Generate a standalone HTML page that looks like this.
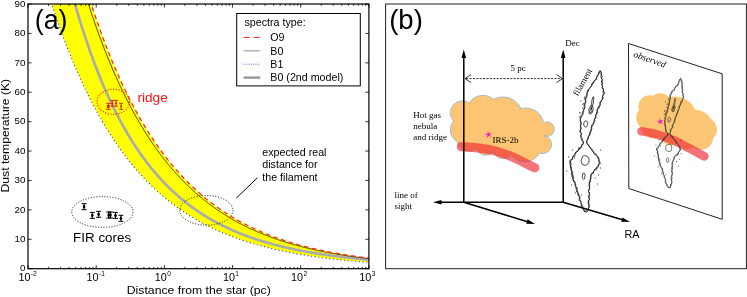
<!DOCTYPE html>
<html><head><meta charset="utf-8"><title>figure</title><style>html,body{margin:0;padding:0;background:#fff}body{width:747px;height:297px;overflow:hidden;font-family:"Liberation Sans",sans-serif}</style></head><body>
<svg width="747" height="297" viewBox="0 0 747 297" style="will-change:transform;display:block;font-family:'Liberation Sans',sans-serif">
<rect width="747" height="297" fill="#fff"/>
<clipPath id="ca"><rect x="28.0" y="4.0" width="340.9" height="264.7"/></clipPath>
<g clip-path="url(#ca)">
<path d="M28.0,-79.2 L28.9,-75.8 L29.7,-72.5 L30.6,-69.1 L31.4,-65.8 L32.3,-62.6 L33.1,-59.3 L34.0,-56.1 L34.8,-52.9 L35.7,-49.8 L36.5,-46.6 L37.4,-43.6 L38.3,-40.5 L39.1,-37.5 L40.0,-34.5 L40.8,-31.5 L41.7,-28.6 L42.5,-25.6 L43.4,-22.8 L44.2,-19.9 L45.1,-17.1 L45.9,-14.3 L46.8,-11.5 L47.7,-8.7 L48.5,-6.0 L49.4,-3.3 L50.2,-0.7 L51.1,2.0 L51.9,4.6 L52.8,7.2 L53.6,9.8 L54.5,12.3 L55.3,14.8 L56.2,17.3 L57.0,19.8 L57.9,22.2 L58.8,24.6 L59.6,27.0 L60.5,29.4 L61.3,31.8 L62.2,34.1 L63.0,36.4 L63.9,38.7 L64.7,40.9 L65.6,43.2 L66.4,45.4 L67.3,47.6 L68.2,49.8 L69.0,51.9 L69.9,54.1 L70.7,56.2 L71.6,58.3 L72.4,60.3 L73.3,62.4 L74.1,64.4 L75.0,66.4 L75.8,68.4 L76.7,70.4 L77.6,72.3 L78.4,74.3 L79.3,76.2 L80.1,78.1 L81.0,80.0 L81.8,81.8 L82.7,83.7 L83.5,85.5 L84.4,87.3 L85.2,89.1 L86.1,90.9 L87.0,92.6 L87.8,94.4 L88.7,96.1 L89.5,97.8 L90.4,99.5 L91.2,101.1 L92.1,102.8 L92.9,104.4 L93.8,106.0 L94.6,107.6 L95.5,109.2 L96.4,110.8 L97.2,112.4 L98.1,113.9 L98.9,115.4 L99.8,117.0 L100.6,118.5 L101.5,119.9 L102.3,121.4 L103.2,122.9 L104.0,124.3 L104.9,125.7 L105.7,127.1 L106.6,128.5 L107.5,129.9 L108.3,131.3 L109.2,132.7 L110.0,134.0 L110.9,135.3 L111.7,136.7 L112.6,138.0 L113.4,139.3 L114.3,140.5 L115.1,141.8 L116.0,143.1 L116.9,144.3 L117.7,145.5 L118.6,146.8 L119.4,148.0 L120.3,149.2 L121.1,150.4 L122.0,151.5 L122.8,152.7 L123.7,153.8 L124.5,155.0 L125.4,156.1 L126.3,157.2 L127.1,158.3 L128.0,159.4 L128.8,160.5 L129.7,161.6 L130.5,162.6 L131.4,163.7 L132.2,164.7 L133.1,165.8 L133.9,166.8 L134.8,167.8 L135.7,168.8 L136.5,169.8 L137.4,170.8 L138.2,171.7 L139.1,172.7 L139.9,173.7 L140.8,174.6 L141.6,175.5 L142.5,176.5 L143.3,177.4 L144.2,178.3 L145.1,179.2 L145.9,180.1 L146.8,181.0 L147.6,181.8 L148.5,182.7 L149.3,183.5 L150.2,184.4 L151.0,185.2 L151.9,186.1 L152.7,186.9 L153.6,187.7 L154.4,188.5 L155.3,189.3 L156.2,190.1 L157.0,190.9 L157.9,191.7 L158.7,192.4 L159.6,193.2 L160.4,193.9 L161.3,194.7 L162.1,195.4 L163.0,196.1 L163.8,196.9 L164.7,197.6 L165.6,198.3 L166.4,199.0 L167.3,199.7 L168.1,200.4 L169.0,201.1 L169.8,201.7 L170.7,202.4 L171.5,203.1 L172.4,203.7 L173.2,204.4 L174.1,205.0 L175.0,205.6 L175.8,206.3 L176.7,206.9 L177.5,207.5 L178.4,208.1 L179.2,208.7 L180.1,209.3 L180.9,209.9 L181.8,210.5 L182.6,211.1 L183.5,211.7 L184.4,212.2 L185.2,212.8 L186.1,213.4 L186.9,213.9 L187.8,214.5 L188.6,215.0 L189.5,215.5 L190.3,216.1 L191.2,216.6 L192.0,217.1 L192.9,217.6 L193.8,218.1 L194.6,218.6 L195.5,219.1 L196.3,219.6 L197.2,220.1 L198.0,220.6 L198.9,221.1 L199.7,221.6 L200.6,222.1 L201.4,222.5 L202.3,223.0 L203.1,223.4 L204.0,223.9 L204.9,224.3 L205.7,224.8 L206.6,225.2 L207.4,225.7 L208.3,226.1 L209.1,226.5 L210.0,226.9 L210.8,227.4 L211.7,227.8 L212.5,228.2 L213.4,228.6 L214.3,229.0 L215.1,229.4 L216.0,229.8 L216.8,230.2 L217.7,230.6 L218.5,230.9 L219.4,231.3 L220.2,231.7 L221.1,232.1 L221.9,232.4 L222.8,232.8 L223.7,233.2 L224.5,233.5 L225.4,233.9 L226.2,234.2 L227.1,234.6 L227.9,234.9 L228.8,235.3 L229.6,235.6 L230.5,235.9 L231.3,236.3 L232.2,236.6 L233.1,236.9 L233.9,237.2 L234.8,237.5 L235.6,237.9 L236.5,238.2 L237.3,238.5 L238.2,238.8 L239.0,239.1 L239.9,239.4 L240.7,239.7 L241.6,240.0 L242.5,240.3 L243.3,240.5 L244.2,240.8 L245.0,241.1 L245.9,241.4 L246.7,241.7 L247.6,241.9 L248.4,242.2 L249.3,242.5 L250.1,242.7 L251.0,243.0 L251.8,243.3 L252.7,243.5 L253.6,243.8 L254.4,244.0 L255.3,244.3 L256.1,244.5 L257.0,244.8 L257.8,245.0 L258.7,245.2 L259.5,245.5 L260.4,245.7 L261.2,245.9 L262.1,246.2 L263.0,246.4 L263.8,246.6 L264.7,246.8 L265.5,247.1 L266.4,247.3 L267.2,247.5 L268.1,247.7 L268.9,247.9 L269.8,248.1 L270.6,248.3 L271.5,248.5 L272.4,248.8 L273.2,249.0 L274.1,249.2 L274.9,249.4 L275.8,249.5 L276.6,249.7 L277.5,249.9 L278.3,250.1 L279.2,250.3 L280.0,250.5 L280.9,250.7 L281.8,250.9 L282.6,251.0 L283.5,251.2 L284.3,251.4 L285.2,251.6 L286.0,251.7 L286.9,251.9 L287.7,252.1 L288.6,252.3 L289.4,252.4 L290.3,252.6 L291.2,252.8 L292.0,252.9 L292.9,253.1 L293.7,253.2 L294.6,253.4 L295.4,253.5 L296.3,253.7 L297.1,253.9 L298.0,254.0 L298.8,254.2 L299.7,254.3 L300.5,254.4 L301.4,254.6 L302.3,254.7 L303.1,254.9 L304.0,255.0 L304.8,255.2 L305.7,255.3 L306.5,255.4 L307.4,255.6 L308.2,255.7 L309.1,255.8 L309.9,256.0 L310.8,256.1 L311.7,256.2 L312.5,256.3 L313.4,256.5 L314.2,256.6 L315.1,256.7 L315.9,256.8 L316.8,257.0 L317.6,257.1 L318.5,257.2 L319.3,257.3 L320.2,257.4 L321.1,257.5 L321.9,257.7 L322.8,257.8 L323.6,257.9 L324.5,258.0 L325.3,258.1 L326.2,258.2 L327.0,258.3 L327.9,258.4 L328.7,258.5 L329.6,258.6 L330.5,258.7 L331.3,258.8 L332.2,258.9 L333.0,259.0 L333.9,259.1 L334.7,259.2 L335.6,259.3 L336.4,259.4 L337.3,259.5 L338.1,259.6 L339.0,259.7 L339.9,259.8 L340.7,259.9 L341.6,260.0 L342.4,260.1 L343.3,260.2 L344.1,260.2 L345.0,260.3 L345.8,260.4 L346.7,260.5 L347.5,260.6 L348.4,260.7 L349.2,260.7 L350.1,260.8 L351.0,260.9 L351.8,261.0 L352.7,261.1 L353.5,261.1 L354.4,261.2 L355.2,261.3 L356.1,261.4 L356.9,261.4 L357.8,261.5 L358.6,261.6 L359.5,261.7 L360.4,261.7 L361.2,261.8 L362.1,261.9 L362.9,262.0 L363.8,262.0 L364.6,262.1 L365.5,262.2 L366.3,262.2 L367.2,262.3 L368.0,262.4 L368.9,262.4 L368.9,258.1 L368.0,258.0 L367.2,257.9 L366.3,257.8 L365.5,257.7 L364.6,257.5 L363.8,257.4 L362.9,257.3 L362.1,257.2 L361.2,257.1 L360.4,257.0 L359.5,256.9 L358.6,256.7 L357.8,256.6 L356.9,256.5 L356.1,256.4 L355.2,256.3 L354.4,256.1 L353.5,256.0 L352.7,255.9 L351.8,255.8 L351.0,255.6 L350.1,255.5 L349.2,255.4 L348.4,255.2 L347.5,255.1 L346.7,255.0 L345.8,254.8 L345.0,254.7 L344.1,254.6 L343.3,254.4 L342.4,254.3 L341.6,254.1 L340.7,254.0 L339.9,253.8 L339.0,253.7 L338.1,253.5 L337.3,253.4 L336.4,253.2 L335.6,253.1 L334.7,252.9 L333.9,252.8 L333.0,252.6 L332.2,252.4 L331.3,252.3 L330.5,252.1 L329.6,252.0 L328.7,251.8 L327.9,251.6 L327.0,251.5 L326.2,251.3 L325.3,251.1 L324.5,250.9 L323.6,250.8 L322.8,250.6 L321.9,250.4 L321.1,250.2 L320.2,250.0 L319.3,249.8 L318.5,249.7 L317.6,249.5 L316.8,249.3 L315.9,249.1 L315.1,248.9 L314.2,248.7 L313.4,248.5 L312.5,248.3 L311.7,248.1 L310.8,247.9 L309.9,247.7 L309.1,247.5 L308.2,247.3 L307.4,247.0 L306.5,246.8 L305.7,246.6 L304.8,246.4 L304.0,246.2 L303.1,246.0 L302.3,245.7 L301.4,245.5 L300.5,245.3 L299.7,245.0 L298.8,244.8 L298.0,244.6 L297.1,244.3 L296.3,244.1 L295.4,243.8 L294.6,243.6 L293.7,243.3 L292.9,243.1 L292.0,242.8 L291.2,242.6 L290.3,242.3 L289.4,242.0 L288.6,241.8 L287.7,241.5 L286.9,241.2 L286.0,241.0 L285.2,240.7 L284.3,240.4 L283.5,240.1 L282.6,239.9 L281.8,239.6 L280.9,239.3 L280.0,239.0 L279.2,238.7 L278.3,238.4 L277.5,238.1 L276.6,237.8 L275.8,237.5 L274.9,237.2 L274.1,236.9 L273.2,236.5 L272.4,236.2 L271.5,235.9 L270.6,235.6 L269.8,235.2 L268.9,234.9 L268.1,234.6 L267.2,234.2 L266.4,233.9 L265.5,233.5 L264.7,233.2 L263.8,232.8 L263.0,232.5 L262.1,232.1 L261.2,231.8 L260.4,231.4 L259.5,231.0 L258.7,230.6 L257.8,230.3 L257.0,229.9 L256.1,229.5 L255.3,229.1 L254.4,228.7 L253.6,228.3 L252.7,227.9 L251.8,227.5 L251.0,227.1 L250.1,226.7 L249.3,226.3 L248.4,225.8 L247.6,225.4 L246.7,225.0 L245.9,224.6 L245.0,224.1 L244.2,223.7 L243.3,223.2 L242.5,222.8 L241.6,222.3 L240.7,221.9 L239.9,221.4 L239.0,220.9 L238.2,220.4 L237.3,220.0 L236.5,219.5 L235.6,219.0 L234.8,218.5 L233.9,218.0 L233.1,217.5 L232.2,217.0 L231.3,216.5 L230.5,215.9 L229.6,215.4 L228.8,214.9 L227.9,214.4 L227.1,213.8 L226.2,213.3 L225.4,212.7 L224.5,212.2 L223.7,211.6 L222.8,211.0 L221.9,210.5 L221.1,209.9 L220.2,209.3 L219.4,208.7 L218.5,208.1 L217.7,207.5 L216.8,206.9 L216.0,206.3 L215.1,205.7 L214.3,205.0 L213.4,204.4 L212.5,203.8 L211.7,203.1 L210.8,202.5 L210.0,201.8 L209.1,201.1 L208.3,200.5 L207.4,199.8 L206.6,199.1 L205.7,198.4 L204.9,197.7 L204.0,197.0 L203.1,196.3 L202.3,195.6 L201.4,194.9 L200.6,194.1 L199.7,193.4 L198.9,192.6 L198.0,191.9 L197.2,191.1 L196.3,190.3 L195.5,189.6 L194.6,188.8 L193.8,188.0 L192.9,187.2 L192.0,186.4 L191.2,185.5 L190.3,184.7 L189.5,183.9 L188.6,183.0 L187.8,182.2 L186.9,181.3 L186.1,180.5 L185.2,179.6 L184.4,178.7 L183.5,177.8 L182.6,176.9 L181.8,176.0 L180.9,175.1 L180.1,174.1 L179.2,173.2 L178.4,172.2 L177.5,171.3 L176.7,170.3 L175.8,169.3 L175.0,168.3 L174.1,167.3 L173.2,166.3 L172.4,165.3 L171.5,164.3 L170.7,163.3 L169.8,162.2 L169.0,161.2 L168.1,160.1 L167.3,159.0 L166.4,157.9 L165.6,156.8 L164.7,155.7 L163.8,154.6 L163.0,153.4 L162.1,152.3 L161.3,151.1 L160.4,150.0 L159.6,148.8 L158.7,147.6 L157.9,146.4 L157.0,145.2 L156.2,143.9 L155.3,142.7 L154.4,141.5 L153.6,140.2 L152.7,138.9 L151.9,137.6 L151.0,136.3 L150.2,135.0 L149.3,133.7 L148.5,132.3 L147.6,131.0 L146.8,129.6 L145.9,128.2 L145.1,126.8 L144.2,125.4 L143.3,124.0 L142.5,122.5 L141.6,121.1 L140.8,119.6 L139.9,118.1 L139.1,116.6 L138.2,115.1 L137.4,113.6 L136.5,112.1 L135.7,110.5 L134.8,108.9 L133.9,107.3 L133.1,105.7 L132.2,104.1 L131.4,102.5 L130.5,100.8 L129.7,99.2 L128.8,97.5 L128.0,95.8 L127.1,94.1 L126.3,92.3 L125.4,90.6 L124.5,88.8 L123.7,87.0 L122.8,85.2 L122.0,83.4 L121.1,81.5 L120.3,79.7 L119.4,77.8 L118.6,75.9 L117.7,74.0 L116.9,72.0 L116.0,70.1 L115.1,68.1 L114.3,66.1 L113.4,64.1 L112.6,62.1 L111.7,60.0 L110.9,57.9 L110.0,55.8 L109.2,53.7 L108.3,51.6 L107.5,49.4 L106.6,47.2 L105.7,45.0 L104.9,42.8 L104.0,40.6 L103.2,38.3 L102.3,36.0 L101.5,33.7 L100.6,31.4 L99.8,29.0 L98.9,26.6 L98.1,24.2 L97.2,21.8 L96.4,19.3 L95.5,16.8 L94.6,14.3 L93.8,11.8 L92.9,9.3 L92.1,6.7 L91.2,4.1 L90.4,1.4 L89.5,-1.2 L88.7,-3.9 L87.8,-6.6 L87.0,-9.3 L86.1,-12.1 L85.2,-14.9 L84.4,-17.7 L83.5,-20.6 L82.7,-23.4 L81.8,-26.4 L81.0,-29.3 L80.1,-32.3 L79.3,-35.2 L78.4,-38.3 L77.6,-41.3 L76.7,-44.4 L75.8,-47.5 L75.0,-50.7 L74.1,-53.8 L73.3,-57.0 L72.4,-60.3 L71.6,-63.5 L70.7,-66.9 L69.9,-70.2 L69.0,-73.6 L68.2,-77.0 L67.3,-80.4 L66.4,-83.9 L65.6,-87.4 L64.7,-90.9 L63.9,-94.5 L63.0,-98.1 L62.2,-101.8 L61.3,-105.4 L60.5,-109.2 L59.6,-112.9 L58.8,-116.7 L57.9,-120.5 L57.0,-124.4 L56.2,-128.3 L55.3,-132.3 L54.5,-136.3 L53.6,-140.3 L52.8,-144.3 L51.9,-148.5 L51.1,-152.6 L50.2,-156.8 L49.4,-161.0 L48.5,-165.3 L47.7,-169.6 L46.8,-174.0 L45.9,-178.4 L45.1,-182.8 L44.2,-187.3 L43.4,-191.8 L42.5,-196.4 L41.7,-201.0 L40.8,-205.7 L40.0,-210.4 L39.1,-215.2 L38.3,-220.0 L37.4,-224.9 L36.5,-229.8 L35.7,-234.7 L34.8,-239.7 L34.0,-244.8 L33.1,-249.9 L32.3,-255.1 L31.4,-260.3 L30.6,-265.5 L29.7,-270.8 L28.9,-276.2 L28.0,-281.6Z" fill="#ffff00"/>
<path d="M28.0,-226.2 L28.9,-220.5 L29.7,-214.8 L30.6,-209.3 L31.4,-203.8 L32.3,-198.3 L33.1,-193.0 L34.0,-187.7 L34.8,-182.4 L35.7,-177.3 L36.5,-172.1 L37.4,-167.1 L38.3,-162.1 L39.1,-157.2 L40.0,-152.3 L40.8,-147.5 L41.7,-142.7 L42.5,-138.0 L43.4,-133.4 L44.2,-128.8 L45.1,-124.3 L45.9,-119.8 L46.8,-115.4 L47.7,-111.0 L48.5,-106.7 L49.4,-102.5 L50.2,-98.3 L51.1,-94.1 L51.9,-90.0 L52.8,-85.9 L53.6,-81.9 L54.5,-78.0 L55.3,-74.0 L56.2,-70.2 L57.0,-66.3 L57.9,-62.6 L58.8,-58.8 L59.6,-55.2 L60.5,-51.5 L61.3,-47.9 L62.2,-44.4 L63.0,-40.8 L63.9,-37.4 L64.7,-33.9 L65.6,-30.5 L66.4,-27.2 L67.3,-23.9 L68.2,-20.6 L69.0,-17.4 L69.9,-14.2 L70.7,-11.0 L71.6,-7.9 L72.4,-4.8 L73.3,-1.8 L74.1,1.2 L75.0,4.2 L75.8,7.1 L76.7,10.0 L77.6,12.9 L78.4,15.7 L79.3,18.5 L80.1,21.3 L81.0,24.1 L81.8,26.8 L82.7,29.4 L83.5,32.1 L84.4,34.7 L85.2,37.3 L86.1,39.8 L87.0,42.3 L87.8,44.8 L88.7,47.3 L89.5,49.7 L90.4,52.1 L91.2,54.5 L92.1,56.8 L92.9,59.2 L93.8,61.5 L94.6,63.7 L95.5,66.0 L96.4,68.2 L97.2,70.4 L98.1,72.5 L98.9,74.7 L99.8,76.8 L100.6,78.9 L101.5,80.9 L102.3,83.0 L103.2,85.0 L104.0,87.0 L104.9,89.0 L105.7,90.9 L106.6,92.8 L107.5,94.7 L108.3,96.6 L109.2,98.5 L110.0,100.3 L110.9,102.1 L111.7,103.9 L112.6,105.7 L113.4,107.5 L114.3,109.2 L115.1,110.9 L116.0,112.6 L116.9,114.3 L117.7,115.9 L118.6,117.6 L119.4,119.2 L120.3,120.8 L121.1,122.4 L122.0,123.9 L122.8,125.5 L123.7,127.0 L124.5,128.5 L125.4,130.0 L126.3,131.5 L127.1,133.0 L128.0,134.4 L128.8,135.8 L129.7,137.3 L130.5,138.6 L131.4,140.0 L132.2,141.4 L133.1,142.7 L133.9,144.1 L134.8,145.4 L135.7,146.7 L136.5,148.0 L137.4,149.3 L138.2,150.5 L139.1,151.8 L139.9,153.0 L140.8,154.2 L141.6,155.4 L142.5,156.6 L143.3,157.8 L144.2,158.9 L145.1,160.1 L145.9,161.2 L146.8,162.4 L147.6,163.5 L148.5,164.6 L149.3,165.7 L150.2,166.7 L151.0,167.8 L151.9,168.8 L152.7,169.9 L153.6,170.9 L154.4,171.9 L155.3,172.9 L156.2,173.9 L157.0,174.9 L157.9,175.9 L158.7,176.9 L159.6,177.8 L160.4,178.7 L161.3,179.7 L162.1,180.6 L163.0,181.5 L163.8,182.4 L164.7,183.3 L165.6,184.2 L166.4,185.0 L167.3,185.9 L168.1,186.7 L169.0,187.6 L169.8,188.4 L170.7,189.2 L171.5,190.1 L172.4,190.9 L173.2,191.7 L174.1,192.4 L175.0,193.2 L175.8,194.0 L176.7,194.8 L177.5,195.5 L178.4,196.3 L179.2,197.0 L180.1,197.7 L180.9,198.4 L181.8,199.2 L182.6,199.9 L183.5,200.6 L184.4,201.3 L185.2,201.9 L186.1,202.6 L186.9,203.3 L187.8,203.9 L188.6,204.6 L189.5,205.2 L190.3,205.9 L191.2,206.5 L192.0,207.1 L192.9,207.8 L193.8,208.4 L194.6,209.0 L195.5,209.6 L196.3,210.2 L197.2,210.7 L198.0,211.3 L198.9,211.9 L199.7,212.5 L200.6,213.0 L201.4,213.6 L202.3,214.1 L203.1,214.7 L204.0,215.2 L204.9,215.7 L205.7,216.3 L206.6,216.8 L207.4,217.3 L208.3,217.8 L209.1,218.3 L210.0,218.8 L210.8,219.3 L211.7,219.8 L212.5,220.3 L213.4,220.8 L214.3,221.2 L215.1,221.7 L216.0,222.2 L216.8,222.6 L217.7,223.1 L218.5,223.5 L219.4,224.0 L220.2,224.4 L221.1,224.8 L221.9,225.3 L222.8,225.7 L223.7,226.1 L224.5,226.5 L225.4,226.9 L226.2,227.3 L227.1,227.8 L227.9,228.1 L228.8,228.5 L229.6,228.9 L230.5,229.3 L231.3,229.7 L232.2,230.1 L233.1,230.5 L233.9,230.8 L234.8,231.2 L235.6,231.6 L236.5,231.9 L237.3,232.3 L238.2,232.6 L239.0,233.0 L239.9,233.3 L240.7,233.7 L241.6,234.0 L242.5,234.3 L243.3,234.7 L244.2,235.0 L245.0,235.3 L245.9,235.6 L246.7,235.9 L247.6,236.2 L248.4,236.6 L249.3,236.9 L250.1,237.2 L251.0,237.5 L251.8,237.8 L252.7,238.1 L253.6,238.4 L254.4,238.6 L255.3,238.9 L256.1,239.2 L257.0,239.5 L257.8,239.8 L258.7,240.0 L259.5,240.3 L260.4,240.6 L261.2,240.8 L262.1,241.1 L263.0,241.4 L263.8,241.6 L264.7,241.9 L265.5,242.1 L266.4,242.4 L267.2,242.6 L268.1,242.9 L268.9,243.1 L269.8,243.3 L270.6,243.6 L271.5,243.8 L272.4,244.1 L273.2,244.3 L274.1,244.5 L274.9,244.7 L275.8,245.0 L276.6,245.2 L277.5,245.4 L278.3,245.6 L279.2,245.8 L280.0,246.0 L280.9,246.2 L281.8,246.5 L282.6,246.7 L283.5,246.9 L284.3,247.1 L285.2,247.3 L286.0,247.5 L286.9,247.7 L287.7,247.9 L288.6,248.0 L289.4,248.2 L290.3,248.4 L291.2,248.6 L292.0,248.8 L292.9,249.0 L293.7,249.2 L294.6,249.3 L295.4,249.5 L296.3,249.7 L297.1,249.9 L298.0,250.0 L298.8,250.2 L299.7,250.4 L300.5,250.5 L301.4,250.7 L302.3,250.9 L303.1,251.0 L304.0,251.2 L304.8,251.3 L305.7,251.5 L306.5,251.7 L307.4,251.8 L308.2,252.0 L309.1,252.1 L309.9,252.3 L310.8,252.4 L311.7,252.6 L312.5,252.7 L313.4,252.8 L314.2,253.0 L315.1,253.1 L315.9,253.3 L316.8,253.4 L317.6,253.5 L318.5,253.7 L319.3,253.8 L320.2,253.9 L321.1,254.1 L321.9,254.2 L322.8,254.3 L323.6,254.5 L324.5,254.6 L325.3,254.7 L326.2,254.8 L327.0,255.0 L327.9,255.1 L328.7,255.2 L329.6,255.3 L330.5,255.4 L331.3,255.5 L332.2,255.7 L333.0,255.8 L333.9,255.9 L334.7,256.0 L335.6,256.1 L336.4,256.2 L337.3,256.3 L338.1,256.4 L339.0,256.5 L339.9,256.7 L340.7,256.8 L341.6,256.9 L342.4,257.0 L343.3,257.1 L344.1,257.2 L345.0,257.3 L345.8,257.4 L346.7,257.5 L347.5,257.6 L348.4,257.7 L349.2,257.8 L350.1,257.8 L351.0,257.9 L351.8,258.0 L352.7,258.1 L353.5,258.2 L354.4,258.3 L355.2,258.4 L356.1,258.5 L356.9,258.6 L357.8,258.7 L358.6,258.7 L359.5,258.8 L360.4,258.9 L361.2,259.0 L362.1,259.1 L362.9,259.2 L363.8,259.2 L364.6,259.3 L365.5,259.4 L366.3,259.5 L367.2,259.6 L368.0,259.6 L368.9,259.7" fill="none" stroke="#ababab" stroke-width="2.7"/>
<path d="M28.0,-266.2 L28.9,-261.0 L29.7,-255.7 L30.6,-250.5 L31.4,-245.4 L32.3,-240.3 L33.1,-235.2 L34.0,-230.2 L34.8,-225.3 L35.7,-220.4 L36.5,-215.6 L37.4,-210.8 L38.3,-206.0 L39.1,-201.3 L40.0,-196.7 L40.8,-192.1 L41.7,-187.5 L42.5,-183.0 L43.4,-178.5 L44.2,-174.1 L45.1,-169.7 L45.9,-165.4 L46.8,-161.1 L47.7,-156.8 L48.5,-152.6 L49.4,-148.4 L50.2,-144.3 L51.1,-140.2 L51.9,-136.1 L52.8,-132.1 L53.6,-128.2 L54.5,-124.2 L55.3,-120.3 L56.2,-116.5 L57.0,-112.7 L57.9,-108.9 L58.8,-105.1 L59.6,-101.4 L60.5,-97.8 L61.3,-94.2 L62.2,-90.6 L63.0,-87.0 L63.9,-83.5 L64.7,-80.0 L65.6,-76.5 L66.4,-73.1 L67.3,-69.7 L68.2,-66.4 L69.0,-63.1 L69.9,-59.8 L70.7,-56.5 L71.6,-53.3 L72.4,-50.1 L73.3,-46.9 L74.1,-43.8 L75.0,-40.7 L75.8,-37.7 L76.7,-34.6 L77.6,-31.6 L78.4,-28.6 L79.3,-25.7 L80.1,-22.8 L81.0,-19.9 L81.8,-17.0 L82.7,-14.2 L83.5,-11.4 L84.4,-8.6 L85.2,-5.9 L86.1,-3.2 L87.0,-0.5 L87.8,2.2 L88.7,4.8 L89.5,7.5 L90.4,10.0 L91.2,12.6 L92.1,15.1 L92.9,17.7 L93.8,20.1 L94.6,22.6 L95.5,25.0 L96.4,27.5 L97.2,29.9 L98.1,32.2 L98.9,34.6 L99.8,36.9 L100.6,39.2 L101.5,41.5 L102.3,43.7 L103.2,45.9 L104.0,48.1 L104.9,50.3 L105.7,52.5 L106.6,54.6 L107.5,56.8 L108.3,58.9 L109.2,60.9 L110.0,63.0 L110.9,65.0 L111.7,67.0 L112.6,69.0 L113.4,71.0 L114.3,73.0 L115.1,74.9 L116.0,76.8 L116.9,78.7 L117.7,80.6 L118.6,82.5 L119.4,84.3 L120.3,86.2 L121.1,88.0 L122.0,89.8 L122.8,91.5 L123.7,93.3 L124.5,95.0 L125.4,96.8 L126.3,98.5 L127.1,100.1 L128.0,101.8 L128.8,103.5 L129.7,105.1 L130.5,106.7 L131.4,108.3 L132.2,109.9 L133.1,111.5 L133.9,113.1 L134.8,114.6 L135.7,116.1 L136.5,117.6 L137.4,119.1 L138.2,120.6 L139.1,122.1 L139.9,123.5 L140.8,125.0 L141.6,126.4 L142.5,127.8 L143.3,129.2 L144.2,130.6 L145.1,132.0 L145.9,133.3 L146.8,134.7 L147.6,136.0 L148.5,137.3 L149.3,138.6 L150.2,139.9 L151.0,141.2 L151.9,142.4 L152.7,143.7 L153.6,144.9 L154.4,146.2 L155.3,147.4 L156.2,148.6 L157.0,149.8 L157.9,150.9 L158.7,152.1 L159.6,153.3 L160.4,154.4 L161.3,155.5 L162.1,156.7 L163.0,157.8 L163.8,158.9 L164.7,160.0 L165.6,161.0 L166.4,162.1 L167.3,163.2 L168.1,164.2 L169.0,165.2 L169.8,166.3 L170.7,167.3 L171.5,168.3 L172.4,169.3 L173.2,170.3 L174.1,171.3 L175.0,172.2 L175.8,173.2 L176.7,174.1 L177.5,175.1 L178.4,176.0 L179.2,176.9 L180.1,177.8 L180.9,178.7 L181.8,179.6 L182.6,180.5 L183.5,181.4 L184.4,182.2 L185.2,183.1 L186.1,183.9 L186.9,184.8 L187.8,185.6 L188.6,186.4 L189.5,187.3 L190.3,188.1 L191.2,188.9 L192.0,189.7 L192.9,190.4 L193.8,191.2 L194.6,192.0 L195.5,192.7 L196.3,193.5 L197.2,194.2 L198.0,195.0 L198.9,195.7 L199.7,196.4 L200.6,197.1 L201.4,197.9 L202.3,198.6 L203.1,199.3 L204.0,199.9 L204.9,200.6 L205.7,201.3 L206.6,202.0 L207.4,202.6 L208.3,203.3 L209.1,203.9 L210.0,204.6 L210.8,205.2 L211.7,205.8 L212.5,206.5 L213.4,207.1 L214.3,207.7 L215.1,208.3 L216.0,208.9 L216.8,209.5 L217.7,210.1 L218.5,210.7 L219.4,211.2 L220.2,211.8 L221.1,212.4 L221.9,212.9 L222.8,213.5 L223.7,214.0 L224.5,214.6 L225.4,215.1 L226.2,215.6 L227.1,216.2 L227.9,216.7 L228.8,217.2 L229.6,217.7 L230.5,218.2 L231.3,218.7 L232.2,219.2 L233.1,219.7 L233.9,220.2 L234.8,220.7 L235.6,221.2 L236.5,221.6 L237.3,222.1 L238.2,222.6 L239.0,223.0 L239.9,223.5 L240.7,223.9 L241.6,224.4 L242.5,224.8 L243.3,225.2 L244.2,225.7 L245.0,226.1 L245.9,226.5 L246.7,226.9 L247.6,227.3 L248.4,227.8 L249.3,228.2 L250.1,228.6 L251.0,229.0 L251.8,229.4 L252.7,229.7 L253.6,230.1 L254.4,230.5 L255.3,230.9 L256.1,231.3 L257.0,231.6 L257.8,232.0 L258.7,232.4 L259.5,232.7 L260.4,233.1 L261.2,233.4 L262.1,233.8 L263.0,234.1 L263.8,234.5 L264.7,234.8 L265.5,235.2 L266.4,235.5 L267.2,235.8 L268.1,236.1 L268.9,236.5 L269.8,236.8 L270.6,237.1 L271.5,237.4 L272.4,237.7 L273.2,238.0 L274.1,238.3 L274.9,238.6 L275.8,238.9 L276.6,239.2 L277.5,239.5 L278.3,239.8 L279.2,240.1 L280.0,240.4 L280.9,240.7 L281.8,240.9 L282.6,241.2 L283.5,241.5 L284.3,241.8 L285.2,242.0 L286.0,242.3 L286.9,242.6 L287.7,242.8 L288.6,243.1 L289.4,243.3 L290.3,243.6 L291.2,243.8 L292.0,244.1 L292.9,244.3 L293.7,244.6 L294.6,244.8 L295.4,245.0 L296.3,245.3 L297.1,245.5 L298.0,245.7 L298.8,246.0 L299.7,246.2 L300.5,246.4 L301.4,246.6 L302.3,246.9 L303.1,247.1 L304.0,247.3 L304.8,247.5 L305.7,247.7 L306.5,247.9 L307.4,248.1 L308.2,248.3 L309.1,248.5 L309.9,248.7 L310.8,248.9 L311.7,249.1 L312.5,249.3 L313.4,249.5 L314.2,249.7 L315.1,249.9 L315.9,250.1 L316.8,250.3 L317.6,250.4 L318.5,250.6 L319.3,250.8 L320.2,251.0 L321.1,251.2 L321.9,251.3 L322.8,251.5 L323.6,251.7 L324.5,251.8 L325.3,252.0 L326.2,252.2 L327.0,252.3 L327.9,252.5 L328.7,252.7 L329.6,252.8 L330.5,253.0 L331.3,253.1 L332.2,253.3 L333.0,253.4 L333.9,253.6 L334.7,253.7 L335.6,253.9 L336.4,254.0 L337.3,254.2 L338.1,254.3 L339.0,254.5 L339.9,254.6 L340.7,254.8 L341.6,254.9 L342.4,255.0 L343.3,255.2 L344.1,255.3 L345.0,255.4 L345.8,255.6 L346.7,255.7 L347.5,255.8 L348.4,256.0 L349.2,256.1 L350.1,256.2 L351.0,256.3 L351.8,256.5 L352.7,256.6 L353.5,256.7 L354.4,256.8 L355.2,256.9 L356.1,257.0 L356.9,257.2 L357.8,257.3 L358.6,257.4 L359.5,257.5 L360.4,257.6 L361.2,257.7 L362.1,257.8 L362.9,257.9 L363.8,258.1 L364.6,258.2 L365.5,258.3 L366.3,258.4 L367.2,258.5 L368.0,258.6 L368.9,258.7" fill="none" stroke="#222" stroke-width="0.8"/>
<path d="M28.0,-281.6 L28.9,-276.2 L29.7,-270.8 L30.6,-265.5 L31.4,-260.3 L32.3,-255.1 L33.1,-249.9 L34.0,-244.8 L34.8,-239.7 L35.7,-234.7 L36.5,-229.8 L37.4,-224.9 L38.3,-220.0 L39.1,-215.2 L40.0,-210.4 L40.8,-205.7 L41.7,-201.0 L42.5,-196.4 L43.4,-191.8 L44.2,-187.3 L45.1,-182.8 L45.9,-178.4 L46.8,-174.0 L47.7,-169.6 L48.5,-165.3 L49.4,-161.0 L50.2,-156.8 L51.1,-152.6 L51.9,-148.5 L52.8,-144.3 L53.6,-140.3 L54.5,-136.3 L55.3,-132.3 L56.2,-128.3 L57.0,-124.4 L57.9,-120.5 L58.8,-116.7 L59.6,-112.9 L60.5,-109.2 L61.3,-105.4 L62.2,-101.8 L63.0,-98.1 L63.9,-94.5 L64.7,-90.9 L65.6,-87.4 L66.4,-83.9 L67.3,-80.4 L68.2,-77.0 L69.0,-73.6 L69.9,-70.2 L70.7,-66.9 L71.6,-63.5 L72.4,-60.3 L73.3,-57.0 L74.1,-53.8 L75.0,-50.7 L75.8,-47.5 L76.7,-44.4 L77.6,-41.3 L78.4,-38.3 L79.3,-35.2 L80.1,-32.3 L81.0,-29.3 L81.8,-26.4 L82.7,-23.4 L83.5,-20.6 L84.4,-17.7 L85.2,-14.9 L86.1,-12.1 L87.0,-9.3 L87.8,-6.6 L88.7,-3.9 L89.5,-1.2 L90.4,1.4 L91.2,4.1 L92.1,6.7 L92.9,9.3 L93.8,11.8 L94.6,14.3 L95.5,16.8 L96.4,19.3 L97.2,21.8 L98.1,24.2 L98.9,26.6 L99.8,29.0 L100.6,31.4 L101.5,33.7 L102.3,36.0 L103.2,38.3 L104.0,40.6 L104.9,42.8 L105.7,45.0 L106.6,47.2 L107.5,49.4 L108.3,51.6 L109.2,53.7 L110.0,55.8 L110.9,57.9 L111.7,60.0 L112.6,62.1 L113.4,64.1 L114.3,66.1 L115.1,68.1 L116.0,70.1 L116.9,72.0 L117.7,74.0 L118.6,75.9 L119.4,77.8 L120.3,79.7 L121.1,81.5 L122.0,83.4 L122.8,85.2 L123.7,87.0 L124.5,88.8 L125.4,90.6 L126.3,92.3 L127.1,94.1 L128.0,95.8 L128.8,97.5 L129.7,99.2 L130.5,100.8 L131.4,102.5 L132.2,104.1 L133.1,105.7 L133.9,107.3 L134.8,108.9 L135.7,110.5 L136.5,112.1 L137.4,113.6 L138.2,115.1 L139.1,116.6 L139.9,118.1 L140.8,119.6 L141.6,121.1 L142.5,122.5 L143.3,124.0 L144.2,125.4 L145.1,126.8 L145.9,128.2 L146.8,129.6 L147.6,131.0 L148.5,132.3 L149.3,133.7 L150.2,135.0 L151.0,136.3 L151.9,137.6 L152.7,138.9 L153.6,140.2 L154.4,141.5 L155.3,142.7 L156.2,143.9 L157.0,145.2 L157.9,146.4 L158.7,147.6 L159.6,148.8 L160.4,150.0 L161.3,151.1 L162.1,152.3 L163.0,153.4 L163.8,154.6 L164.7,155.7 L165.6,156.8 L166.4,157.9 L167.3,159.0 L168.1,160.1 L169.0,161.2 L169.8,162.2 L170.7,163.3 L171.5,164.3 L172.4,165.3 L173.2,166.3 L174.1,167.3 L175.0,168.3 L175.8,169.3 L176.7,170.3 L177.5,171.3 L178.4,172.2 L179.2,173.2 L180.1,174.1 L180.9,175.1 L181.8,176.0 L182.6,176.9 L183.5,177.8 L184.4,178.7 L185.2,179.6 L186.1,180.5 L186.9,181.3 L187.8,182.2 L188.6,183.0 L189.5,183.9 L190.3,184.7 L191.2,185.5 L192.0,186.4 L192.9,187.2 L193.8,188.0 L194.6,188.8 L195.5,189.6 L196.3,190.3 L197.2,191.1 L198.0,191.9 L198.9,192.6 L199.7,193.4 L200.6,194.1 L201.4,194.9 L202.3,195.6 L203.1,196.3 L204.0,197.0 L204.9,197.7 L205.7,198.4 L206.6,199.1 L207.4,199.8 L208.3,200.5 L209.1,201.1 L210.0,201.8 L210.8,202.5 L211.7,203.1 L212.5,203.8 L213.4,204.4 L214.3,205.0 L215.1,205.7 L216.0,206.3 L216.8,206.9 L217.7,207.5 L218.5,208.1 L219.4,208.7 L220.2,209.3 L221.1,209.9 L221.9,210.5 L222.8,211.0 L223.7,211.6 L224.5,212.2 L225.4,212.7 L226.2,213.3 L227.1,213.8 L227.9,214.4 L228.8,214.9 L229.6,215.4 L230.5,215.9 L231.3,216.5 L232.2,217.0 L233.1,217.5 L233.9,218.0 L234.8,218.5 L235.6,219.0 L236.5,219.5 L237.3,220.0 L238.2,220.4 L239.0,220.9 L239.9,221.4 L240.7,221.9 L241.6,222.3 L242.5,222.8 L243.3,223.2 L244.2,223.7 L245.0,224.1 L245.9,224.6 L246.7,225.0 L247.6,225.4 L248.4,225.8 L249.3,226.3 L250.1,226.7 L251.0,227.1 L251.8,227.5 L252.7,227.9 L253.6,228.3 L254.4,228.7 L255.3,229.1 L256.1,229.5 L257.0,229.9 L257.8,230.3 L258.7,230.6 L259.5,231.0 L260.4,231.4 L261.2,231.8 L262.1,232.1 L263.0,232.5 L263.8,232.8 L264.7,233.2 L265.5,233.5 L266.4,233.9 L267.2,234.2 L268.1,234.6 L268.9,234.9 L269.8,235.2 L270.6,235.6 L271.5,235.9 L272.4,236.2 L273.2,236.5 L274.1,236.9 L274.9,237.2 L275.8,237.5 L276.6,237.8 L277.5,238.1 L278.3,238.4 L279.2,238.7 L280.0,239.0 L280.9,239.3 L281.8,239.6 L282.6,239.9 L283.5,240.1 L284.3,240.4 L285.2,240.7 L286.0,241.0 L286.9,241.2 L287.7,241.5 L288.6,241.8 L289.4,242.0 L290.3,242.3 L291.2,242.6 L292.0,242.8 L292.9,243.1 L293.7,243.3 L294.6,243.6 L295.4,243.8 L296.3,244.1 L297.1,244.3 L298.0,244.6 L298.8,244.8 L299.7,245.0 L300.5,245.3 L301.4,245.5 L302.3,245.7 L303.1,246.0 L304.0,246.2 L304.8,246.4 L305.7,246.6 L306.5,246.8 L307.4,247.0 L308.2,247.3 L309.1,247.5 L309.9,247.7 L310.8,247.9 L311.7,248.1 L312.5,248.3 L313.4,248.5 L314.2,248.7 L315.1,248.9 L315.9,249.1 L316.8,249.3 L317.6,249.5 L318.5,249.7 L319.3,249.8 L320.2,250.0 L321.1,250.2 L321.9,250.4 L322.8,250.6 L323.6,250.8 L324.5,250.9 L325.3,251.1 L326.2,251.3 L327.0,251.5 L327.9,251.6 L328.7,251.8 L329.6,252.0 L330.5,252.1 L331.3,252.3 L332.2,252.4 L333.0,252.6 L333.9,252.8 L334.7,252.9 L335.6,253.1 L336.4,253.2 L337.3,253.4 L338.1,253.5 L339.0,253.7 L339.9,253.8 L340.7,254.0 L341.6,254.1 L342.4,254.3 L343.3,254.4 L344.1,254.6 L345.0,254.7 L345.8,254.8 L346.7,255.0 L347.5,255.1 L348.4,255.2 L349.2,255.4 L350.1,255.5 L351.0,255.6 L351.8,255.8 L352.7,255.9 L353.5,256.0 L354.4,256.1 L355.2,256.3 L356.1,256.4 L356.9,256.5 L357.8,256.6 L358.6,256.7 L359.5,256.9 L360.4,257.0 L361.2,257.1 L362.1,257.2 L362.9,257.3 L363.8,257.4 L364.6,257.5 L365.5,257.7 L366.3,257.8 L367.2,257.9 L368.0,258.0 L368.9,258.1" fill="none" stroke="#ff2020" stroke-width="1.2" stroke-dasharray="4.5,3.5"/>
<path d="M28.0,-79.2 L28.9,-75.8 L29.7,-72.5 L30.6,-69.1 L31.4,-65.8 L32.3,-62.6 L33.1,-59.3 L34.0,-56.1 L34.8,-52.9 L35.7,-49.8 L36.5,-46.6 L37.4,-43.6 L38.3,-40.5 L39.1,-37.5 L40.0,-34.5 L40.8,-31.5 L41.7,-28.6 L42.5,-25.6 L43.4,-22.8 L44.2,-19.9 L45.1,-17.1 L45.9,-14.3 L46.8,-11.5 L47.7,-8.7 L48.5,-6.0 L49.4,-3.3 L50.2,-0.7 L51.1,2.0 L51.9,4.6 L52.8,7.2 L53.6,9.8 L54.5,12.3 L55.3,14.8 L56.2,17.3 L57.0,19.8 L57.9,22.2 L58.8,24.6 L59.6,27.0 L60.5,29.4 L61.3,31.8 L62.2,34.1 L63.0,36.4 L63.9,38.7 L64.7,40.9 L65.6,43.2 L66.4,45.4 L67.3,47.6 L68.2,49.8 L69.0,51.9 L69.9,54.1 L70.7,56.2 L71.6,58.3 L72.4,60.3 L73.3,62.4 L74.1,64.4 L75.0,66.4 L75.8,68.4 L76.7,70.4 L77.6,72.3 L78.4,74.3 L79.3,76.2 L80.1,78.1 L81.0,80.0 L81.8,81.8 L82.7,83.7 L83.5,85.5 L84.4,87.3 L85.2,89.1 L86.1,90.9 L87.0,92.6 L87.8,94.4 L88.7,96.1 L89.5,97.8 L90.4,99.5 L91.2,101.1 L92.1,102.8 L92.9,104.4 L93.8,106.0 L94.6,107.6 L95.5,109.2 L96.4,110.8 L97.2,112.4 L98.1,113.9 L98.9,115.4 L99.8,117.0 L100.6,118.5 L101.5,119.9 L102.3,121.4 L103.2,122.9 L104.0,124.3 L104.9,125.7 L105.7,127.1 L106.6,128.5 L107.5,129.9 L108.3,131.3 L109.2,132.7 L110.0,134.0 L110.9,135.3 L111.7,136.7 L112.6,138.0 L113.4,139.3 L114.3,140.5 L115.1,141.8 L116.0,143.1 L116.9,144.3 L117.7,145.5 L118.6,146.8 L119.4,148.0 L120.3,149.2 L121.1,150.4 L122.0,151.5 L122.8,152.7 L123.7,153.8 L124.5,155.0 L125.4,156.1 L126.3,157.2 L127.1,158.3 L128.0,159.4 L128.8,160.5 L129.7,161.6 L130.5,162.6 L131.4,163.7 L132.2,164.7 L133.1,165.8 L133.9,166.8 L134.8,167.8 L135.7,168.8 L136.5,169.8 L137.4,170.8 L138.2,171.7 L139.1,172.7 L139.9,173.7 L140.8,174.6 L141.6,175.5 L142.5,176.5 L143.3,177.4 L144.2,178.3 L145.1,179.2 L145.9,180.1 L146.8,181.0 L147.6,181.8 L148.5,182.7 L149.3,183.5 L150.2,184.4 L151.0,185.2 L151.9,186.1 L152.7,186.9 L153.6,187.7 L154.4,188.5 L155.3,189.3 L156.2,190.1 L157.0,190.9 L157.9,191.7 L158.7,192.4 L159.6,193.2 L160.4,193.9 L161.3,194.7 L162.1,195.4 L163.0,196.1 L163.8,196.9 L164.7,197.6 L165.6,198.3 L166.4,199.0 L167.3,199.7 L168.1,200.4 L169.0,201.1 L169.8,201.7 L170.7,202.4 L171.5,203.1 L172.4,203.7 L173.2,204.4 L174.1,205.0 L175.0,205.6 L175.8,206.3 L176.7,206.9 L177.5,207.5 L178.4,208.1 L179.2,208.7 L180.1,209.3 L180.9,209.9 L181.8,210.5 L182.6,211.1 L183.5,211.7 L184.4,212.2 L185.2,212.8 L186.1,213.4 L186.9,213.9 L187.8,214.5 L188.6,215.0 L189.5,215.5 L190.3,216.1 L191.2,216.6 L192.0,217.1 L192.9,217.6 L193.8,218.1 L194.6,218.6 L195.5,219.1 L196.3,219.6 L197.2,220.1 L198.0,220.6 L198.9,221.1 L199.7,221.6 L200.6,222.1 L201.4,222.5 L202.3,223.0 L203.1,223.4 L204.0,223.9 L204.9,224.3 L205.7,224.8 L206.6,225.2 L207.4,225.7 L208.3,226.1 L209.1,226.5 L210.0,226.9 L210.8,227.4 L211.7,227.8 L212.5,228.2 L213.4,228.6 L214.3,229.0 L215.1,229.4 L216.0,229.8 L216.8,230.2 L217.7,230.6 L218.5,230.9 L219.4,231.3 L220.2,231.7 L221.1,232.1 L221.9,232.4 L222.8,232.8 L223.7,233.2 L224.5,233.5 L225.4,233.9 L226.2,234.2 L227.1,234.6 L227.9,234.9 L228.8,235.3 L229.6,235.6 L230.5,235.9 L231.3,236.3 L232.2,236.6 L233.1,236.9 L233.9,237.2 L234.8,237.5 L235.6,237.9 L236.5,238.2 L237.3,238.5 L238.2,238.8 L239.0,239.1 L239.9,239.4 L240.7,239.7 L241.6,240.0 L242.5,240.3 L243.3,240.5 L244.2,240.8 L245.0,241.1 L245.9,241.4 L246.7,241.7 L247.6,241.9 L248.4,242.2 L249.3,242.5 L250.1,242.7 L251.0,243.0 L251.8,243.3 L252.7,243.5 L253.6,243.8 L254.4,244.0 L255.3,244.3 L256.1,244.5 L257.0,244.8 L257.8,245.0 L258.7,245.2 L259.5,245.5 L260.4,245.7 L261.2,245.9 L262.1,246.2 L263.0,246.4 L263.8,246.6 L264.7,246.8 L265.5,247.1 L266.4,247.3 L267.2,247.5 L268.1,247.7 L268.9,247.9 L269.8,248.1 L270.6,248.3 L271.5,248.5 L272.4,248.8 L273.2,249.0 L274.1,249.2 L274.9,249.4 L275.8,249.5 L276.6,249.7 L277.5,249.9 L278.3,250.1 L279.2,250.3 L280.0,250.5 L280.9,250.7 L281.8,250.9 L282.6,251.0 L283.5,251.2 L284.3,251.4 L285.2,251.6 L286.0,251.7 L286.9,251.9 L287.7,252.1 L288.6,252.3 L289.4,252.4 L290.3,252.6 L291.2,252.8 L292.0,252.9 L292.9,253.1 L293.7,253.2 L294.6,253.4 L295.4,253.5 L296.3,253.7 L297.1,253.9 L298.0,254.0 L298.8,254.2 L299.7,254.3 L300.5,254.4 L301.4,254.6 L302.3,254.7 L303.1,254.9 L304.0,255.0 L304.8,255.2 L305.7,255.3 L306.5,255.4 L307.4,255.6 L308.2,255.7 L309.1,255.8 L309.9,256.0 L310.8,256.1 L311.7,256.2 L312.5,256.3 L313.4,256.5 L314.2,256.6 L315.1,256.7 L315.9,256.8 L316.8,257.0 L317.6,257.1 L318.5,257.2 L319.3,257.3 L320.2,257.4 L321.1,257.5 L321.9,257.7 L322.8,257.8 L323.6,257.9 L324.5,258.0 L325.3,258.1 L326.2,258.2 L327.0,258.3 L327.9,258.4 L328.7,258.5 L329.6,258.6 L330.5,258.7 L331.3,258.8 L332.2,258.9 L333.0,259.0 L333.9,259.1 L334.7,259.2 L335.6,259.3 L336.4,259.4 L337.3,259.5 L338.1,259.6 L339.0,259.7 L339.9,259.8 L340.7,259.9 L341.6,260.0 L342.4,260.1 L343.3,260.2 L344.1,260.2 L345.0,260.3 L345.8,260.4 L346.7,260.5 L347.5,260.6 L348.4,260.7 L349.2,260.7 L350.1,260.8 L351.0,260.9 L351.8,261.0 L352.7,261.1 L353.5,261.1 L354.4,261.2 L355.2,261.3 L356.1,261.4 L356.9,261.4 L357.8,261.5 L358.6,261.6 L359.5,261.7 L360.4,261.7 L361.2,261.8 L362.1,261.9 L362.9,262.0 L363.8,262.0 L364.6,262.1 L365.5,262.2 L366.3,262.2 L367.2,262.3 L368.0,262.4 L368.9,262.4" fill="none" stroke="#2030d0" stroke-width="1.1" stroke-dasharray="1,2.7"/>
</g>
<rect x="28.0" y="4.0" width="340.9" height="264.7" fill="none" stroke="#000" stroke-width="1.2"/>
<path d="M28.00,268.7v-3.6M28.00,4.0v3.6M48.52,268.7v-1.8M48.52,4.0v1.8M60.53,268.7v-1.8M60.53,4.0v1.8M69.05,268.7v-1.8M69.05,4.0v1.8M75.66,268.7v-1.8M75.66,4.0v1.8M81.05,268.7v-1.8M81.05,4.0v1.8M85.62,268.7v-1.8M85.62,4.0v1.8M89.57,268.7v-1.8M89.57,4.0v1.8M93.06,268.7v-1.8M93.06,4.0v1.8M96.18,268.7v-3.6M96.18,4.0v3.6M116.70,268.7v-1.8M116.70,4.0v1.8M128.71,268.7v-1.8M128.71,4.0v1.8M137.23,268.7v-1.8M137.23,4.0v1.8M143.84,268.7v-1.8M143.84,4.0v1.8M149.23,268.7v-1.8M149.23,4.0v1.8M153.80,268.7v-1.8M153.80,4.0v1.8M157.75,268.7v-1.8M157.75,4.0v1.8M161.24,268.7v-1.8M161.24,4.0v1.8M164.36,268.7v-3.6M164.36,4.0v3.6M184.88,268.7v-1.8M184.88,4.0v1.8M196.89,268.7v-1.8M196.89,4.0v1.8M205.41,268.7v-1.8M205.41,4.0v1.8M212.02,268.7v-1.8M212.02,4.0v1.8M217.41,268.7v-1.8M217.41,4.0v1.8M221.98,268.7v-1.8M221.98,4.0v1.8M225.93,268.7v-1.8M225.93,4.0v1.8M229.42,268.7v-1.8M229.42,4.0v1.8M232.54,268.7v-3.6M232.54,4.0v3.6M253.06,268.7v-1.8M253.06,4.0v1.8M265.07,268.7v-1.8M265.07,4.0v1.8M273.59,268.7v-1.8M273.59,4.0v1.8M280.20,268.7v-1.8M280.20,4.0v1.8M285.59,268.7v-1.8M285.59,4.0v1.8M290.16,268.7v-1.8M290.16,4.0v1.8M294.11,268.7v-1.8M294.11,4.0v1.8M297.60,268.7v-1.8M297.60,4.0v1.8M300.72,268.7v-3.6M300.72,4.0v3.6M321.24,268.7v-1.8M321.24,4.0v1.8M333.25,268.7v-1.8M333.25,4.0v1.8M341.77,268.7v-1.8M341.77,4.0v1.8M348.38,268.7v-1.8M348.38,4.0v1.8M353.77,268.7v-1.8M353.77,4.0v1.8M358.34,268.7v-1.8M358.34,4.0v1.8M362.29,268.7v-1.8M362.29,4.0v1.8M365.78,268.7v-1.8M365.78,4.0v1.8M368.90,268.7v-3.6M368.90,4.0v3.6M28.0,268.70h3.6M368.9,268.70h-3.6M28.0,239.29h3.6M368.9,239.29h-3.6M28.0,209.88h3.6M368.9,209.88h-3.6M28.0,180.47h3.6M368.9,180.47h-3.6M28.0,151.06h3.6M368.9,151.06h-3.6M28.0,121.64h3.6M368.9,121.64h-3.6M28.0,92.23h3.6M368.9,92.23h-3.6M28.0,62.82h3.6M368.9,62.82h-3.6M28.0,33.41h3.6M368.9,33.41h-3.6M28.0,4.00h3.6M368.9,4.00h-3.6" stroke="#000" stroke-width="0.8" fill="none"/>
<text x="25.4" y="271.4" font-size="9.8" text-anchor="end">0</text>
<text x="25.4" y="242.0" font-size="9.8" text-anchor="end">10</text>
<text x="25.4" y="212.6" font-size="9.8" text-anchor="end">20</text>
<text x="25.4" y="183.2" font-size="9.8" text-anchor="end">30</text>
<text x="25.4" y="153.8" font-size="9.8" text-anchor="end">40</text>
<text x="25.4" y="124.3" font-size="9.8" text-anchor="end">50</text>
<text x="25.4" y="94.9" font-size="9.8" text-anchor="end">60</text>
<text x="25.4" y="65.5" font-size="9.8" text-anchor="end">70</text>
<text x="25.4" y="36.1" font-size="9.8" text-anchor="end">80</text>
<text x="25.4" y="6.7" font-size="9.8" text-anchor="end">90</text>
<text x="30.4" y="281.3" font-size="10.8" text-anchor="end">10</text>
<text x="30.8" y="276.4" font-size="6.6">-2</text>
<text x="98.6" y="281.3" font-size="10.8" text-anchor="end">10</text>
<text x="99.0" y="276.4" font-size="6.6">-1</text>
<text x="166.8" y="281.3" font-size="10.8" text-anchor="end">10</text>
<text x="167.2" y="276.4" font-size="6.6">0</text>
<text x="234.9" y="281.3" font-size="10.8" text-anchor="end">10</text>
<text x="235.3" y="276.4" font-size="6.6">1</text>
<text x="303.1" y="281.3" font-size="10.8" text-anchor="end">10</text>
<text x="303.5" y="276.4" font-size="6.6">2</text>
<text x="371.3" y="281.3" font-size="10.8" text-anchor="end">10</text>
<text x="371.7" y="276.4" font-size="6.6">3</text>
<text x="198.8" y="294" font-size="11.5" text-anchor="middle" textLength="144" lengthAdjust="spacingAndGlyphs">Distance from the star (pc)</text>
<text transform="translate(8.8,135.7) rotate(-90)" font-size="11.5" text-anchor="middle" textLength="113.6" lengthAdjust="spacingAndGlyphs">Dust temperature (K)</text>
<text x="34.8" y="28.9" font-size="26.8">(a)</text>
<rect x="236.7" y="13.5" width="123.6" height="72.4" fill="#fff" stroke="#000" stroke-width="1"/>
<text x="244.5" y="26.2" font-size="10.7">spectra type:</text>
<path d="M243.6,37.4h16.7" stroke="#ff2020" stroke-width="1" stroke-dasharray="6,4"/>
<path d="M243.6,50.8h16.7" stroke="#aaaaaa" stroke-width="1.3"/>
<path d="M243.6,64.2h16.7" stroke="#5060ff" stroke-width="1" stroke-dasharray="1,1.4"/>
<path d="M243.6,77.6h16.7" stroke="#999" stroke-width="2.4"/>
<text x="270.3" y="41.2" font-size="10.7">O9</text>
<text x="270.3" y="54.6" font-size="10.7">B0</text>
<text x="270.3" y="68.0" font-size="10.7">B1</text>
<text x="270.3" y="81.4" font-size="10.7">B0 (2nd model)</text>
<ellipse cx="113.3" cy="101.8" rx="16.3" ry="12.5" fill="none" stroke="#ff3010" stroke-width="1.2" stroke-dasharray="1.2,1.5"/>
<path d="M108.3,103.3v6.0M105.9,103.3h4.8M105.9,109.3h4.8" stroke="#e81010" stroke-width="0.9" fill="none"/>
<rect x="106.9" y="104.9" width="2.8" height="2.8" fill="#e81010"/>
<path d="M112.3,100.4v5.8M110.3,100.4h4.0M110.3,106.2h4.0" stroke="#e81010" stroke-width="0.9" fill="none"/>
<rect x="111.4" y="102.4" width="1.8" height="1.8" fill="#e81010"/>
<path d="M116.0,100.4v5.8M114.0,100.4h4.0M114.0,106.2h4.0" stroke="#e81010" stroke-width="0.9" fill="none"/>
<rect x="115.1" y="102.4" width="1.8" height="1.8" fill="#e81010"/>
<path d="M121.2,103.3v6.0M119.2,103.3h4.0M119.2,109.3h4.0" stroke="#e81010" stroke-width="0.9" fill="none"/>
<rect x="120.4" y="105.5" width="1.6" height="1.6" fill="#e81010"/>
<text x="137.5" y="102" font-size="13.6" fill="#ff1010">ridge</text>
<ellipse cx="102.4" cy="212" rx="30.7" ry="15.4" fill="none" stroke="#111" stroke-width="1" stroke-dasharray="1,1.7"/>
<path d="M84.1,203.7v6M81.6,203.7h5M81.6,209.7h5" stroke="#000" stroke-width="1" fill="none"/>
<ellipse cx="84.1" cy="206.7" rx="1.3" ry="1.7" fill="#000"/>
<path d="M92.3,212.4v6M89.8,212.4h5M89.8,218.4h5" stroke="#000" stroke-width="1" fill="none"/>
<ellipse cx="92.3" cy="215.4" rx="1.3" ry="1.7" fill="#000"/>
<path d="M98.6,211.3v6M96.1,211.3h5M96.1,217.3h5" stroke="#000" stroke-width="1" fill="none"/>
<ellipse cx="98.6" cy="214.3" rx="1.3" ry="1.7" fill="#000"/>
<path d="M108.7,212.0v6M106.2,212.0h5M106.2,218.0h5" stroke="#000" stroke-width="1" fill="none"/>
<ellipse cx="108.7" cy="215.0" rx="1.3" ry="1.7" fill="#000"/>
<path d="M110.5,212.0v6M108.0,212.0h5M108.0,218.0h5" stroke="#000" stroke-width="1" fill="none"/>
<ellipse cx="110.5" cy="215.0" rx="1.3" ry="1.7" fill="#000"/>
<path d="M115.5,212.4v6M113.0,212.4h5M113.0,218.4h5" stroke="#000" stroke-width="1" fill="none"/>
<ellipse cx="115.5" cy="215.4" rx="1.3" ry="1.7" fill="#000"/>
<path d="M120.9,215.3v6M118.4,215.3h5M118.4,221.3h5" stroke="#000" stroke-width="1" fill="none"/>
<ellipse cx="120.9" cy="218.3" rx="1.3" ry="1.7" fill="#000"/>
<text x="73.1" y="241.5" font-size="13.4">FIR cores</text>
<ellipse cx="206.3" cy="210.3" rx="26.6" ry="14.8" fill="none" stroke="#111" stroke-width="1" stroke-dasharray="1,1.7"/>
<path d="M236.3,198.1L257.3,177.9" stroke="#000" stroke-width="1"/>
<text x="262.3" y="155.6" font-size="10.7">expected real</text>
<text x="262.3" y="168.4" font-size="10.7">distance for</text>
<text x="262.3" y="181.3" font-size="10.7">the filament</text>
<rect x="385.6" y="4" width="360.8" height="264.7" fill="#fff" stroke="#222" stroke-width="1"/>
<text x="389.2" y="28.7" font-size="27.5">(b)</text>
<g font-family="'Liberation Serif',serif" font-size="9" fill="#000">
<path d="M457.2,141.7 A13.7,13.7 0 0 1 453.5,121.1 A12.1,12.1 0 0 1 469.2,102.9 A16.3,16.3 0 0 1 493.5,99.3 A20,20 0 0 1 521.1,108.7 A18,18 0 0 1 543.6,122.8 A7.2,7.2 0 1 1 544.2,135.7 A9,9 0 1 1 539.5,153 A16.8,16.8 0 0 1 510.9,154.5 A10,10 0 0 1 493.4,151.8 A9.8,9.8 0 0 1 476.6,148.5 A12.1,12.1 0 0 1 457.2,141.7Z" fill="#fcc573" stroke="#9bb6d4" stroke-width="0.9"/>
<path d="M461.3,146.6 C470,147 480,148 488.7,149.6 C497,151 506,154 515.6,158.3 C523,161.8 529,165.5 534.8,167.8" fill="none" stroke="#ee2a30" stroke-opacity="0.66" stroke-width="9.2" stroke-linecap="round"/>
<polygon points="487.8,130.7 489.0,133.6 492.0,132.7 489.6,134.8 491.4,137.4 488.7,135.7 486.7,138.2 487.5,135.1 484.5,134.0 487.7,133.8" fill="#e818c8"/>
<text x="492.6" y="143">IRS-2b</text>
<path d="M463.8,56V202.3H563.2V56M463.8,202.3H440M463.8,202.3L527.5,221.7M563.2,202.3L622.5,219.8" fill="none" stroke="#000" stroke-width="1.5"/>
<polygon points="463.8,49.6 466.1,58.1 461.5,58.1" fill="#000"/>
<polygon points="563.2,49.6 565.5,58.1 560.9,58.1" fill="#000"/>
<polygon points="433.0,202.3 441.5,200.0 441.5,204.6" fill="#000"/>
<polygon points="535.0,224.0 526.2,223.7 527.5,219.3" fill="#000"/>
<polygon points="630.0,222.0 621.2,221.8 622.5,217.4" fill="#000"/>
<path d="M466,78.6H561.5" stroke="#000" stroke-width="0.8" stroke-dasharray="2.2,1.2"/>
<path d="M471,74.6L465,78.6L471,82.6M556.5,74.6L562.5,78.6L556.5,82.6" fill="none" stroke="#000" stroke-width="0.8"/>
<text x="510.4" y="71">5 pc</text>
<text x="565.3" y="46.1">Dec</text>
<text transform="translate(577.8,96.6) rotate(-60.5)">filament</text>
<text x="413.3" y="117.7">Hot gas</text><text x="413.3" y="128.8">nebula</text><text x="413.3" y="139.5">and ridge</text>
<text x="394.5" y="198.2">line of</text><text x="394.5" y="209.3">sight</text>
</g>
<text x="624.4" y="238.3" font-size="10.8">RA</text>
<path d="M600.3,70.8 L599.3,71.2 L599.1,73.0 L598.1,75.4 L596.5,77.5 L595.7,79.3 L594.5,80.1 L593.8,82.8 L592.1,83.1 L591.8,85.8 L590.7,86.4 L590.3,87.2 L589.4,89.0 L587.5,90.0 L587.1,92.5 L586.7,94.1 L587.2,95.8 L586.5,97.3 L585.2,99.5 L585.8,101.7 L584.9,103.8 L584.7,105.2 L584.9,107.7 L583.6,109.3 L583.6,111.6 L583.3,112.5 L583.0,114.0 L581.4,116.9 L580.6,118.3 L580.1,120.5 L581.0,122.1 L581.2,123.2 L580.8,125.2 L580.5,126.4 L580.9,128.8 L580.4,129.8 L579.8,131.3 L580.9,133.3 L581.3,133.6 L581.0,136.1 L580.8,137.6 L581.4,138.8 L582.4,141.5 L583.6,142.1 L583.1,144.4 L581.6,144.9 L581.4,146.9 L580.9,148.1 L579.0,148.6 L578.2,150.7 L578.2,150.7 L575.9,152.0 L575.1,153.8 L574.8,154.7 L572.8,156.2 L572.5,157.8 L572.6,159.3 L570.9,160.4 L570.2,160.7 L570.9,163.5 L571.1,165.0 L570.6,165.8 L570.4,167.7 L570.6,168.3 L571.1,169.9 L571.6,171.2 L571.4,172.9 L571.9,174.8 L572.1,177.1 L573.4,177.4 L573.1,179.2 L573.6,180.4 L575.0,183.4 L574.9,184.2 L574.8,185.1 L575.9,187.0 L577.3,188.4 L576.5,191.4 L577.8,191.5 L578.2,192.9 L578.6,196.0 L579.7,197.1 L579.1,198.0 L579.3,200.3 L580.5,201.7 L580.7,202.2 L582.0,204.9 L582.6,206.1 L583.0,207.4 L582.7,208.5 L583.5,209.2 L584.4,211.5 L586.2,211.1 L587.0,210.3 L588.6,208.4 L589.0,207.8 L589.2,205.1 L588.1,203.1 L588.1,201.4 L589.0,200.9 L589.5,198.5 L589.2,197.5 L588.3,195.8 L589.7,194.5 L589.4,192.5 L588.5,191.5 L588.8,190.0 L589.9,187.8 L589.1,187.1 L589.9,184.0 L589.1,182.3 L590.7,181.7 L589.6,180.1 L591.2,178.1 L590.9,176.2 L591.3,173.7 L593.5,173.1 L593.4,171.9 L594.5,170.6 L596.4,168.2 L596.6,167.1 L597.5,166.3 L598.4,164.8 L599.1,164.3 L599.1,161.9 L599.1,161.0 L598.5,159.3 L597.7,157.4 L596.8,155.3 L595.8,154.3 L594.2,154.1 L593.5,152.3 L593.6,151.2 L592.0,149.8 L591.4,149.1 L589.6,147.5 L588.8,145.8 L588.7,144.9 L587.3,144.2 L586.9,142.4 L587.0,140.8 L587.4,139.3 L588.1,137.3 L588.8,136.2 L589.9,134.3 L591.0,131.6 L590.9,131.1 L592.0,128.1 L591.4,126.9 L591.9,124.9 L592.5,123.9 L594.3,122.6 L593.8,120.7 L595.2,118.0 L596.2,117.7 L595.6,116.0 L596.4,113.5 L598.0,112.5 L597.1,110.3 L598.2,108.6 L598.2,107.0 L599.7,104.9 L600.1,104.0 L599.8,102.2 L601.5,101.1 L601.2,100.5 L603.1,99.0 L602.6,95.8 L603.2,94.7 L603.3,91.9 L603.2,91.6 L603.5,88.8 L602.2,88.4 L602.7,86.5 L601.6,83.9 L602.4,83.1 L601.3,82.0 L602.2,79.8 L601.2,77.9 L600.9,76.3 L601.3,73.8 L601.1,72.4ZM600.3,70.8 L599.7,72.4 L598.7,72.5 L598.6,73.9 L597.4,75.1 L596.8,76.4 L596.7,77.8 L596.9,79.1 L595.6,80.0 L594.4,80.8 L593.3,81.8 L593.0,83.7 L591.4,84.7 L591.8,85.2 L590.8,86.8 L589.5,88.5 L588.6,89.3 L588.4,91.4 L587.2,92.5 L587.6,93.5 L587.0,94.4 L586.3,95.4 L586.0,97.7 L585.9,98.2 L585.3,100.5 L586.2,101.6 L585.0,102.4 L584.8,104.1 L584.3,105.4 L584.1,107.6 L584.9,108.3 L583.5,110.3 L583.3,110.8 L582.3,112.2 L582.5,113.8 L581.6,115.1 L580.8,116.1 L580.7,117.7 L580.4,118.5 L580.5,120.2 L580.7,122.0 L580.9,123.7 L580.8,125.6 L580.2,126.2 L581.0,127.5 L580.8,129.7 L579.9,131.5 L581.3,132.7 L581.2,134.5 L580.6,135.4 L581.4,137.3 L582.2,138.6 L582.1,140.1 L583.4,141.3 L583.8,141.8 L582.8,143.4 L581.9,145.2 L581.7,146.0 L581.0,147.2 L579.9,147.3 L579.5,149.5 L578.2,150.3 L577.6,150.7 L576.9,152.1 L575.0,153.3 L575.2,154.3 L574.4,156.6 L573.2,156.8 L572.3,158.4 L572.0,159.4 L570.9,159.7 L569.4,161.1 L570.5,162.5 L570.5,163.3 L570.0,165.0 L571.1,166.9 L571.4,167.6 L571.4,169.2 L571.5,169.9 L572.5,171.4 L572.9,173.8 L571.7,174.4 L573.2,176.5 L572.9,176.7 L572.8,179.0 L573.1,179.8 L573.3,181.0 L575.0,181.8 L575.3,183.8 L575.9,185.4 L575.4,187.1 L576.3,187.1 L576.1,189.2 L577.2,190.3 L577.1,191.7 L577.8,193.7 L577.7,194.9 L579.3,195.3 L579.8,197.5 L580.1,198.2 L579.7,199.6 L581.2,201.4 L580.7,202.6 L581.1,203.4 L581.4,206.1 L582.2,207.7 L582.8,208.1 L583.8,209.5 L584.4,211.5 L586.8,212.2 L588.0,210.5 L588.1,209.1 L589.0,207.1 L588.7,204.9 L588.8,204.1 L589.0,203.0 L588.4,200.7 L589.4,199.4 L588.9,198.3 L588.6,197.5 L589.7,195.5 L589.2,194.3 L589.1,193.1 L588.5,191.4 L588.6,191.2 L589.1,188.9 L589.7,188.7 L589.2,186.0 L589.0,184.5 L589.4,183.0 L589.5,181.8 L590.1,181.3 L590.6,179.1 L590.3,177.8 L590.8,176.2 L590.9,174.8 L592.9,173.3 L592.8,172.7 L593.9,170.8 L594.3,169.6 L595.6,168.7 L597.7,168.0 L598.5,165.5 L598.1,165.2 L600.3,163.6 L599.5,161.2 L598.8,160.9 L599.1,159.1 L598.5,157.1 L596.4,155.9 L596.3,155.6 L596.1,154.5 L594.9,153.5 L593.8,152.1 L592.4,151.3 L591.9,150.4 L591.6,148.5 L590.0,147.3 L589.9,147.0 L588.2,145.0 L588.0,144.7 L586.9,143.1 L586.4,141.8 L586.5,140.7 L588.1,139.2 L588.5,137.6 L588.1,136.0 L589.7,135.3 L589.3,133.0 L590.1,132.6 L590.4,130.7 L591.3,130.3 L591.1,127.6 L591.8,126.9 L592.8,125.2 L593.4,124.7 L593.4,122.5 L594.6,121.4 L594.9,119.9 L594.4,119.3 L595.0,118.3 L595.7,115.8 L595.7,114.7 L596.8,114.2 L596.5,112.1 L597.0,111.7 L597.3,109.1 L597.6,108.4 L599.3,107.9 L599.7,106.4 L600.6,103.8 L600.1,103.2 L601.6,100.4 L602.2,99.5 L602.4,97.9 L602.6,96.1 L603.2,95.3 L604.7,93.6 L604.4,92.1 L603.1,91.3 L603.5,89.1 L602.1,87.7 L602.4,86.8 L601.9,84.5 L602.7,82.5 L601.9,82.2 L602.4,79.6 L601.3,78.1 L602.5,76.9 L602.0,76.3 L601.1,73.7 L601.1,72.4ZM593.3,103.2 L592.4,106.0 L591.8,108.0 L591.1,109.4 L591.2,109.3 L591.1,107.7 L591.0,105.6 L591.7,103.1 L592.0,100.0 L592.7,97.9 L593.4,96.6 L593.7,96.9 L593.8,98.2 L593.6,100.3ZM592.9,110.3 L592.5,111.9 L591.4,113.6 L590.5,113.9 L589.5,113.9 L589.0,113.2 L589.1,111.7 L588.9,109.4 L589.4,107.8 L590.6,106.5 L591.3,105.9 L592.3,106.2 L593.0,107.2 L593.2,108.4ZM592.0,110.6 L591.5,111.6 L591.2,112.3 L590.5,112.7 L590.0,112.9 L590.0,112.1 L589.8,111.6 L590.0,110.2 L590.5,109.4 L591.0,108.3 L591.2,108.3 L591.8,108.5 L591.6,108.7 L591.7,109.5ZM587.7,124.2 L587.4,125.4 L586.8,126.5 L585.7,127.2 L585.3,126.8 L584.4,126.4 L583.8,125.1 L583.7,123.7 L584.1,122.6 L584.9,121.3 L585.3,120.9 L586.5,120.9 L586.9,121.5 L587.6,122.8ZM589.0,160.2 L588.8,162.6 L587.8,164.0 L585.9,165.3 L584.3,165.1 L582.6,164.5 L581.5,162.6 L581.1,160.4 L581.8,158.5 L582.6,156.4 L584.4,155.5 L585.8,155.8 L587.7,156.7 L588.8,158.5ZM585.0,176.0 L584.6,177.6 L584.6,178.9 L583.8,179.4 L583.3,179.3 L582.7,178.6 L582.5,177.8 L582.2,176.2 L582.7,175.0 L582.7,173.5 L583.6,173.3 L584.0,172.9 L584.7,173.6 L585.1,174.9ZM572.0,150.0h1.1M570.5,167.0h1.1M571.5,174.0h1.1M573.0,181.0h1.1M576.5,188.0h1.1M569.0,163.0h1.1M574.0,158.0h1.1M578.0,148.0h1.1M581.0,195.0h1.1M596.0,170.0h1.1M594.5,178.0h1.1M600.0,168.0h1.1M580.3,101.0h1.1M582.5,104.5h1.1M579.5,113.0h1.1M584.0,97.0h1.1M568.0,157.0h1.1M571.0,185.0h1.1M566.0,171.0h1.1M598.0,175.0h1.1M597.0,184.0h1.1M575.0,193.0h1.1M573.0,176.0h1.1M600.0,150.0h1.1M583.9,98.6h1.1M582.9,103.6h1.1M582.1,108.2h1.1M579.3,112.7h1.1M578.8,117.0h1.1" fill="none" stroke="#151515" stroke-width="0.8" stroke-linejoin="round"/>
<path d="M628.5,43.5L722.2,73.8V219.3L628.8,188.5Z" fill="none" stroke="#222" stroke-width="1"/>
<text transform="translate(633,56.8) rotate(19)" font-family="'Liberation Serif',serif" font-style="italic" font-size="9.3">observed</text>
<path d="M640.2,126.4 A11,11 0 0 1 639,110.5 A11.5,11.5 0 0 1 653,95.7 A11.5,11.5 0 0 1 669,97.5 A21.8,21.8 0 0 1 695.3,109.8 A20,20 0 0 1 711.5,119.5 A12.3,12.3 0 0 1 713.2,138.5 A12.8,12.8 0 0 1 693,147.5 A11,11 0 0 1 678,143.5 A12,12 0 0 1 660,137 A14,14 0 0 1 640.2,126.4Z" fill="#fcc573"/>
<path d="M641.6,131.3 C647,132 652,133.2 656.2,134.3 C662,136 667,137.8 672.4,139.8 C678,142.3 683,145 688.5,147.8 C694,150.8 699,153.6 704.3,156.3" fill="none" stroke="#ee2a30" stroke-opacity="0.66" stroke-width="8.7" stroke-linecap="round"/>
<polygon points="659.6,117.9 660.8,120.6 663.7,119.8 661.4,121.8 663.0,124.2 660.5,122.7 658.6,125.0 659.3,122.1 656.5,121.1 659.5,120.8" fill="#e818c8"/>
<path d="M680.6,78.4 L680.0,79.3 L680.0,80.6 L678.8,82.2 L677.8,83.6 L677.8,85.5 L676.1,85.9 L675.1,87.7 L674.9,87.7 L674.5,90.1 L673.2,90.8 L671.7,91.1 L671.4,92.7 L670.1,94.5 L669.7,96.3 L670.1,98.4 L669.8,99.7 L669.4,101.3 L669.0,102.1 L669.5,104.6 L669.0,105.6 L667.9,106.3 L667.6,107.5 L667.9,109.4 L667.5,110.8 L667.1,112.9 L665.2,113.4 L666.3,115.2 L666.1,116.5 L664.6,118.3 L665.5,119.3 L664.5,120.9 L665.6,123.1 L664.6,123.9 L664.7,125.2 L665.8,126.9 L665.8,128.7 L665.6,130.5 L665.8,131.8 L666.6,132.7 L667.6,133.6 L667.8,135.5 L666.1,136.7 L665.1,137.1 L665.1,138.6 L663.2,140.2 L662.5,140.3 L662.4,141.5 L660.9,142.3 L659.7,144.2 L659.1,145.3 L658.4,146.3 L658.4,147.5 L657.0,149.2 L656.7,149.6 L658.0,151.9 L657.3,152.4 L658.3,154.9 L657.8,156.3 L659.0,157.2 L658.7,157.8 L658.4,160.4 L659.0,161.4 L659.3,162.9 L660.1,163.5 L659.9,165.4 L660.2,165.9 L661.4,168.0 L661.9,168.5 L662.8,169.6 L662.0,170.9 L663.0,172.1 L663.0,173.9 L664.0,175.0 L664.1,177.5 L665.4,178.6 L665.5,179.9 L665.2,180.5 L665.5,183.1 L667.0,184.6 L666.8,185.9 L668.2,187.4 L670.2,187.8 L670.5,186.4 L670.6,184.0 L671.7,183.2 L671.8,181.6 L671.9,180.6 L671.4,178.9 L672.3,177.9 L671.6,176.4 L672.3,174.8 L672.0,173.1 L671.9,172.1 L671.3,170.8 L672.6,169.8 L672.4,167.8 L672.5,166.7 L672.3,165.8 L672.0,164.3 L672.1,162.8 L672.9,160.9 L673.7,160.0 L674.2,159.4 L674.3,156.8 L674.9,156.5 L675.7,154.8 L677.7,154.5 L677.9,153.9 L678.8,152.1 L679.7,150.2 L680.3,149.6 L680.1,147.6 L679.4,146.2 L677.9,145.3 L678.1,144.7 L677.1,143.7 L675.7,141.4 L675.1,140.4 L674.0,139.5 L673.6,138.5 L672.2,137.8 L672.2,136.2 L670.0,134.4 L670.1,133.3 L670.4,132.7 L670.3,131.7 L670.4,129.4 L671.6,127.9 L672.7,126.8 L672.2,125.2 L673.4,124.5 L673.8,123.5 L674.6,122.6 L674.9,120.2 L675.0,118.9 L674.8,118.0 L676.3,116.3 L676.1,115.2 L677.1,114.2 L677.4,113.2 L677.6,111.9 L678.8,109.3 L679.4,108.6 L678.8,106.6 L680.0,106.0 L680.2,104.3 L681.4,103.4 L682.2,101.3 L682.6,99.2 L683.3,98.5 L683.7,96.8 L682.8,95.8 L683.6,94.6 L682.8,93.1 L682.2,91.7 L682.7,89.3 L681.4,87.9 L682.0,86.9 L681.9,84.3 L682.3,82.8 L682.0,81.1 L681.2,79.6ZM680.6,78.4 L679.9,79.5 L679.0,80.2 L678.8,82.4 L678.6,83.8 L678.2,85.1 L677.2,85.7 L675.3,87.3 L674.4,88.6 L674.0,89.5 L673.4,90.7 L672.0,91.6 L672.0,93.2 L670.7,94.2 L671.1,94.9 L670.5,96.0 L670.3,97.9 L669.9,98.9 L669.9,101.0 L669.0,102.8 L668.9,103.9 L668.7,104.8 L668.2,106.6 L668.4,108.6 L667.3,109.5 L666.7,110.5 L667.1,112.2 L666.3,112.5 L665.6,114.0 L666.2,114.8 L665.8,116.1 L664.9,117.8 L665.4,119.0 L664.9,120.5 L664.6,121.8 L664.5,122.7 L664.8,123.5 L665.2,125.0 L665.1,126.1 L665.4,127.0 L665.3,129.0 L666.2,130.3 L666.7,131.8 L667.6,132.5 L668.3,134.3 L667.8,134.7 L666.3,136.4 L665.5,137.5 L665.5,137.4 L664.0,139.1 L663.2,139.3 L663.2,140.7 L662.4,141.3 L661.2,142.9 L660.0,143.4 L660.0,145.2 L659.7,145.2 L658.4,147.0 L657.6,147.9 L656.5,148.2 L656.6,149.3 L657.4,151.0 L657.6,151.8 L657.4,153.0 L658.4,155.1 L658.7,155.2 L657.9,157.4 L658.7,158.3 L658.7,159.1 L659.2,160.2 L659.6,160.9 L659.9,163.1 L659.5,163.7 L660.6,164.8 L660.3,165.5 L661.1,166.4 L662.0,168.4 L662.1,169.6 L662.4,170.1 L662.8,171.3 L663.6,172.8 L663.0,174.1 L664.0,175.1 L664.4,175.9 L664.8,177.6 L664.9,178.7 L665.4,179.4 L665.8,180.1 L665.7,181.7 L665.7,182.7 L666.9,184.1 L666.9,185.7 L667.9,186.1 L668.2,187.4 L670.4,187.5 L670.6,186.1 L671.5,185.3 L671.5,184.3 L671.9,182.1 L671.6,181.6 L671.2,179.9 L671.1,178.3 L671.6,176.9 L671.4,176.7 L671.8,175.1 L672.3,174.0 L672.4,172.9 L672.2,171.0 L672.0,170.7 L671.3,169.7 L671.6,168.1 L671.8,167.0 L672.4,165.3 L673.0,164.6 L672.6,163.7 L672.6,162.2 L673.1,161.4 L673.2,160.3 L673.8,158.2 L674.3,156.9 L674.8,156.5 L676.0,155.7 L677.4,153.8 L678.6,153.9 L678.2,152.8 L679.3,151.3 L680.7,150.0 L679.9,149.6 L679.8,147.7 L679.8,146.8 L678.7,145.0 L678.0,144.4 L676.8,143.0 L676.5,142.1 L675.7,141.8 L675.0,140.3 L674.5,139.5 L673.9,138.7 L673.4,138.3 L672.3,136.5 L670.7,136.3 L670.7,135.1 L669.4,133.7 L670.3,132.7 L670.6,131.4 L671.4,129.5 L671.4,129.1 L672.8,127.6 L672.2,125.3 L672.9,124.5 L673.8,122.8 L674.2,121.4 L674.1,120.9 L675.1,119.5 L675.4,118.0 L675.7,116.6 L676.7,115.9 L676.3,113.7 L677.7,113.0 L678.0,111.1 L678.0,110.0 L678.9,108.9 L679.1,108.5 L679.1,106.7 L680.1,106.0 L680.3,104.1 L680.4,103.4 L680.8,101.4 L682.0,100.7 L682.6,99.4 L683.3,97.6 L683.1,96.7 L682.7,95.0 L683.2,94.2 L682.4,92.2 L682.4,91.8 L682.2,89.9 L682.4,89.3 L682.5,88.5 L682.5,86.8 L682.3,85.5 L681.7,84.5 L682.4,83.9 L681.3,82.0 L681.3,80.7 L681.2,79.6ZM674.9,103.4 L674.4,105.6 L674.2,107.3 L673.8,108.2 L673.2,108.3 L673.5,107.1 L673.2,105.4 L673.8,103.3 L674.4,101.2 L674.8,99.2 L675.1,98.6 L675.1,98.3 L675.5,99.7 L675.1,101.4ZM674.7,109.2 L674.5,110.3 L673.6,111.6 L673.0,112.1 L672.3,111.7 L672.1,111.2 L671.7,109.9 L671.9,108.6 L672.5,107.1 L673.1,106.2 L673.8,105.8 L674.5,105.9 L675.1,106.6 L675.0,107.8ZM674.1,109.3 L673.7,109.9 L673.5,110.9 L673.0,110.8 L672.6,110.9 L672.4,110.7 L672.3,109.7 L672.4,109.1 L673.0,108.1 L672.9,107.6 L673.5,107.6 L673.6,107.2 L673.8,107.7 L673.9,108.6ZM670.7,119.6 L670.2,120.7 L669.8,121.7 L669.2,122.0 L668.9,121.9 L668.1,121.6 L668.1,120.5 L667.8,119.7 L668.0,118.3 L668.3,117.9 L669.3,117.2 L669.7,117.3 L670.1,118.1 L670.6,118.6ZM671.7,147.8 L671.6,149.6 L670.9,150.9 L669.3,151.4 L668.0,151.4 L667.1,150.8 L666.1,149.7 L665.6,147.9 L665.8,146.3 L666.6,145.0 L668.3,144.3 L669.3,144.0 L670.9,144.7 L671.6,146.2ZM668.9,160.1 L668.7,161.1 L668.4,162.0 L668.1,162.3 L667.6,162.4 L667.0,162.0 L666.6,161.3 L666.5,160.0 L666.5,158.9 L667.0,158.3 L667.4,157.8 L667.7,157.6 L668.3,158.4 L668.7,159.1ZM658.5,139.8h1.1M657.4,153.0h1.1M658.1,158.4h1.1M659.3,163.8h1.1M662.0,169.2h1.1M656.2,149.9h1.1M660.1,146.0h1.1M663.2,138.2h1.1M665.5,174.7h1.1M677.2,155.3h1.1M676.1,161.5h1.1M680.4,153.7h1.1M665.0,101.8h1.1M666.7,104.5h1.1M664.4,111.1h1.1M667.9,98.7h1.1M655.4,145.2h1.1M657.7,166.9h1.1M653.8,156.1h1.1M678.8,159.2h1.1M678.0,166.1h1.1M660.9,173.1h1.1M659.3,159.9h1.1M680.4,139.8h1.1M667.8,99.9h1.1M667.0,103.8h1.1M666.4,107.4h1.1M664.2,110.9h1.1M663.8,114.2h1.1" fill="none" stroke="#2a2a2a" stroke-width="0.65" stroke-linejoin="round"/>
</svg>
</body></html>
